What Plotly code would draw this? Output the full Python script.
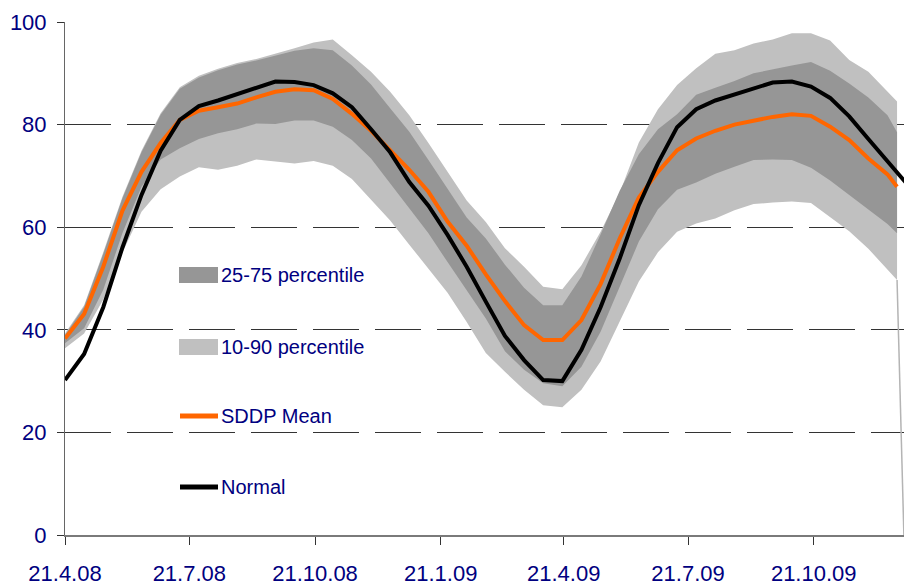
import plotly.graph_objects as go

# ---------------- data ----------------
dates = [
    "2008-04-21", "2008-05-05", "2008-05-19", "2008-06-02", "2008-06-16", "2008-06-30",
    "2008-07-14", "2008-07-28", "2008-08-11", "2008-08-25", "2008-09-08", "2008-09-22",
    "2008-10-06", "2008-10-20", "2008-11-03", "2008-11-17", "2008-12-01", "2008-12-15",
    "2008-12-29", "2009-01-12", "2009-01-26", "2009-02-09", "2009-02-23", "2009-03-09",
    "2009-03-23", "2009-04-06", "2009-04-20", "2009-05-04", "2009-05-18", "2009-06-01",
    "2009-06-15", "2009-06-29", "2009-07-13", "2009-07-27", "2009-08-10", "2009-08-24",
    "2009-09-07", "2009-09-21", "2009-10-05", "2009-10-19", "2009-11-02", "2009-11-16",
    "2009-11-30", "2009-12-14", "2009-12-21",
]

p10 = [36.4, 39.3, 45.9, 55.0, 63.0, 67.4, 69.9, 71.7, 71.2, 72.0, 73.2, 72.8,
       72.4, 72.9, 72.0, 69.4, 65.4, 61.3, 56.6, 51.9, 47.2, 41.5, 35.5, 31.8,
       28.3, 25.3, 24.9, 28.3, 33.8, 41.6, 49.4, 55.1, 59.1, 60.7, 61.7, 63.3,
       64.5, 64.8, 65.0, 64.7, 61.9, 59.2, 55.8, 51.7, 49.7]

p25 = [37.4, 40.3, 47.8, 58.8, 67.9, 73.2, 75.4, 77.2, 78.3, 79.1, 80.2, 80.1,
       80.8, 80.8, 79.6, 77.0, 73.4, 68.6, 63.6, 58.8, 53.2, 47.6, 42.2, 35.8,
       32.2, 29.6, 29.0, 32.8, 39.6, 48.4, 57.2, 63.5, 67.3, 68.7, 70.4, 71.8,
       73.1, 73.2, 73.1, 71.6, 69.1, 66.3, 63.5, 60.6, 58.8]

p75 = [39.0, 44.5, 54.8, 65.6, 74.6, 81.9, 87.0, 89.2, 90.6, 91.7, 92.5, 93.5,
       94.4, 94.9, 94.5, 91.5, 87.8, 83.2, 78.6, 73.1, 67.5, 61.9, 57.8, 52.7,
       48.2, 44.8, 44.8, 50.4, 58.6, 67.1, 74.2, 79.1, 82.0, 85.8, 87.2, 88.5,
       90.0, 90.8, 91.5, 92.2, 90.5, 88.0, 85.3, 81.8, 78.5]

p90 = [39.3, 44.8, 55.1, 65.9, 74.9, 82.2, 87.3, 89.5, 90.9, 92.0, 92.8, 93.8,
       94.9, 96.0, 96.6, 93.5, 90.3, 86.4, 81.8, 76.4, 70.8, 65.2, 61.0, 55.9,
       52.3, 48.4, 47.9, 52.6, 59.1, 66.7, 76.5, 83.0, 87.7, 91.0, 93.8, 94.5,
       95.8, 96.6, 97.8, 97.8, 96.4, 92.6, 90.3, 86.5, 84.5]

sddp_mean = [38.3, 43.1, 52.3, 63.2, 70.8, 76.4, 80.9, 82.7, 83.4, 84.1, 85.3, 86.4,
             86.9, 86.7, 85.0, 82.1, 78.8, 75.0, 71.2, 66.9, 61.1, 56.4, 50.8, 45.6,
             40.9, 38.0, 38.0, 41.9, 48.9, 57.8, 65.8, 70.8, 75.0, 77.3, 78.8, 80.0,
             80.7, 81.5, 82.0, 81.7, 79.6, 77.0, 73.4, 70.3, 67.9]

normal_dates = dates + ["2009-12-28"]
normal = [30.2, 35.3, 44.4, 56.0, 66.3, 74.9, 80.9, 83.6, 84.7, 86.0, 87.1, 88.4,
          88.3, 87.7, 86.1, 83.4, 79.1, 74.6, 68.8, 64.2, 58.5, 52.3, 45.5, 38.8,
          34.1, 30.2, 30.0, 36.1, 44.4, 53.9, 64.3, 72.5, 79.5, 83.0, 84.7, 85.9,
          87.0, 88.2, 88.4, 87.4, 85.2, 81.6, 77.2, 72.8, 70.4, 68.5]

# drop of the 10-percentile area at the very end of the series
tail_dates = ["2009-12-21", "2009-12-26"]
tail_vals = [49.7, 0.0]

tick_dates = ["2008-04-21", "2008-07-21", "2008-10-21", "2009-01-21",
              "2009-04-21", "2009-07-21", "2009-10-21"]
tick_labels = ["21.4.08", "21.7.08", "21.10.08", "21.1.09", "21.4.09", "21.7.09", "21.10.09"]
y_ticks = [0, 20, 40, 60, 80, 100]

legend_names = ["25-75 percentile", "10-90 percentile", "SDDP Mean", "Normal"]

# ---------------- styles ----------------
LIGHT = "#c0c0c0"
DARK = "#969696"
ORANGE = "#ff6600"
NAVY = "#000080"
FONT = "Liberation Sans, Arial, sans-serif"

fig = go.Figure()

fig.add_trace(go.Scatter(x=dates, y=p10, mode="lines", line=dict(width=0, color=LIGHT),
                         showlegend=False, hoverinfo="skip"))
fig.add_trace(go.Scatter(x=dates, y=p90, mode="lines", line=dict(width=0, color=LIGHT),
                         fill="tonexty", fillcolor=LIGHT, name=legend_names[1],
                         showlegend=False, hoverinfo="skip"))
fig.add_trace(go.Scatter(x=dates, y=p25, mode="lines", line=dict(width=0, color=DARK),
                         showlegend=False, hoverinfo="skip"))
fig.add_trace(go.Scatter(x=dates, y=p75, mode="lines", line=dict(width=0, color=DARK),
                         fill="tonexty", fillcolor=DARK, name=legend_names[0],
                         showlegend=False, hoverinfo="skip"))
fig.add_trace(go.Scatter(x=tail_dates, y=tail_vals, mode="lines",
                         line=dict(width=1.5, color="#b4b4b4"),
                         showlegend=False, hoverinfo="skip"))
fig.add_trace(go.Scatter(x=dates, y=sddp_mean, mode="lines",
                         line=dict(width=4, color=ORANGE), name=legend_names[2],
                         showlegend=False))
fig.add_trace(go.Scatter(x=normal_dates, y=normal, mode="lines",
                         line=dict(width=4, color="black"), name=legend_names[3],
                         showlegend=False))

# ---------------- layout ----------------
W, H = 904, 586
ML, MR, MT, MB = 65, 0, 22, 51
PW, PH = W - ML - MR, H - MT - MB


def px_x(p):
    return (p - ML) / PW


def px_y(p):
    return (H - MB - p) / PH


shapes = [
    # white area behind the legend that hides the gridlines (below the data)
    dict(type="rect", xref="paper", yref="paper", layer="between",
         x0=px_x(86), x1=px_x(451), y0=px_y(520), y1=px_y(245),
         fillcolor="white", line=dict(width=0)),
]

legend_y = [275, 347, 416, 487]
sw_x0, sw_x1 = 179, 218
shapes.append(dict(type="rect", xref="paper", yref="paper", layer="above",
                   x0=px_x(sw_x0), x1=px_x(sw_x1), y0=px_y(legend_y[0] + 8), y1=px_y(legend_y[0] - 8),
                   fillcolor=DARK, line=dict(width=0)))
shapes.append(dict(type="rect", xref="paper", yref="paper", layer="above",
                   x0=px_x(sw_x0), x1=px_x(sw_x1), y0=px_y(legend_y[1] + 8), y1=px_y(legend_y[1] - 8),
                   fillcolor=LIGHT, line=dict(width=0)))
shapes.append(dict(type="line", xref="paper", yref="paper", layer="above",
                   x0=px_x(sw_x0 + 1), x1=px_x(sw_x1), y0=px_y(legend_y[2]), y1=px_y(legend_y[2]),
                   line=dict(color=ORANGE, width=5)))
shapes.append(dict(type="line", xref="paper", yref="paper", layer="above",
                   x0=px_x(sw_x0 + 1), x1=px_x(sw_x1), y0=px_y(legend_y[3]), y1=px_y(legend_y[3]),
                   line=dict(color="black", width=5)))

annotations = []
for name, yy in zip(legend_names, legend_y):
    annotations.append(dict(xref="paper", yref="paper", x=px_x(219), y=px_y(yy),
                            xanchor="left", yanchor="middle", text=name, showarrow=False,
                            font=dict(family=FONT, size=20, color=NAVY)))

fig.update_layout(
    width=W, height=H,
    margin=dict(l=ML, r=MR, t=MT, b=MB, pad=0, autoexpand=False),
    paper_bgcolor="white", plot_bgcolor="white",
    showlegend=False,
    shapes=shapes,
    annotations=annotations,
    font=dict(family=FONT, color=NAVY),
)

fig.update_xaxes(
    type="date", automargin=False,
    range=["2008-04-21", "2009-12-26 02:00"],
    tickvals=tick_dates, ticktext=tick_labels,
    tickfont=dict(family=FONT, size=22, color=NAVY),
    showgrid=False, zeroline=False,
    showline=True, linecolor="#7a7a7a", linewidth=2,
    ticks="outside", ticklen=8, tickcolor="#333", tickwidth=1,
    ticklabelstandoff=10,
)

fig.update_yaxes(
    automargin=False,
    range=[0, 100],
    tickvals=y_ticks,
    tickfont=dict(family=FONT, size=22, color=NAVY),
    showgrid=True, gridcolor="#333", gridwidth=1, griddash="46px,16px",
    zeroline=False,
    showline=True, linecolor="#666", linewidth=1,
    ticks="outside", ticklen=7, tickcolor="#333", tickwidth=1,
    ticklabelstandoff=6,
)

fig.write_html(
    "out.html",
    config={"displayModeBar": False},
    post_script="document.body.style.margin='0';document.body.style.padding='0';",
)
